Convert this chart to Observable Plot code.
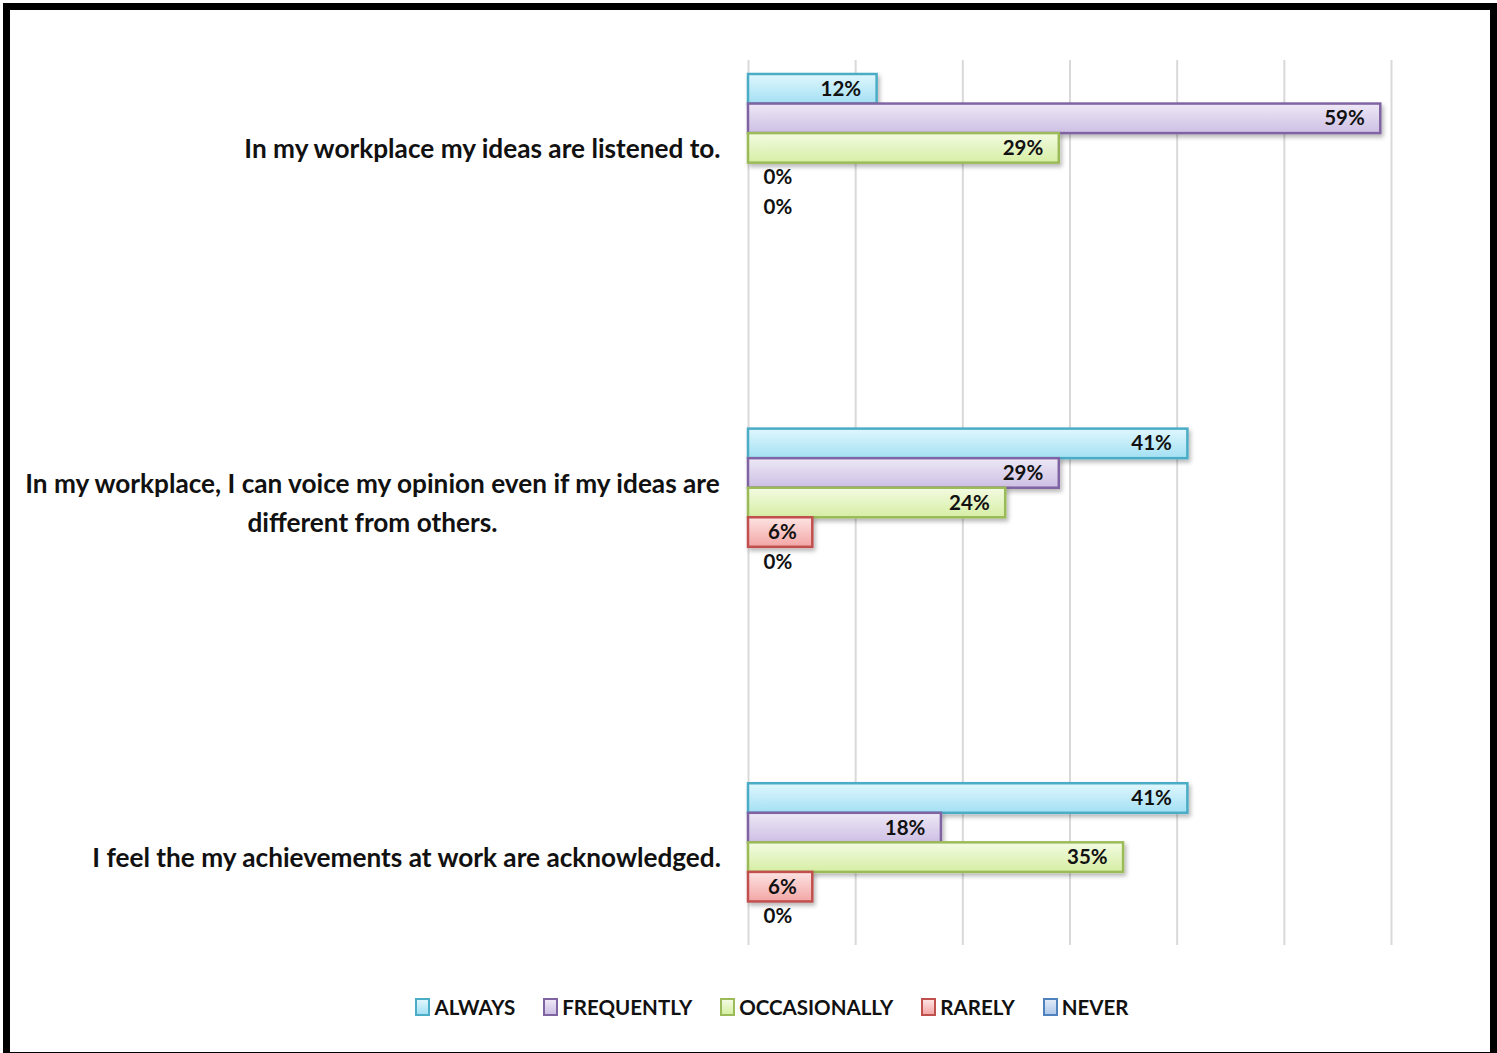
<!DOCTYPE html>
<html><head><meta charset="utf-8">
<script src="https://cdn.jsdelivr.net/npm/d3@7"></script>
<script src="https://cdn.jsdelivr.net/npm/@observablehq/plot@0.6"></script>
<style>
html,body{margin:0;padding:0;background:#fff;}
#frame{position:absolute;left:3px;top:3px;width:1480px;height:1042px;border:7px solid #000;background:#fff;overflow:hidden;}
#chart{position:absolute;left:0;top:0;}
#legend{position:absolute;left:0;top:985px;width:1480px;height:24px;display:flex;justify-content:center;align-items:center;padding-left:44px;box-sizing:border-box;font-family:Lato,sans-serif;font-weight:bold;font-size:20.5px;color:#111;}
.item{display:flex;align-items:center;margin-right:28px;}
.item:last-child{margin-right:0;}
.sw{width:11px;height:14px;border:2px solid;margin-right:4px;box-sizing:content-box;}
</style></head><body>
<div id="frame"><div id="chart"></div><div id="legend"></div></div>
<script>
// ---- data ----
const categories = [
  "In my workplace my ideas are listened to.",
  "In my workplace, I can voice my opinion even if my ideas are\ndifferent from others.",
  "I feel the my achievements at work are acknowledged."
];
const series = ["ALWAYS", "FREQUENTLY", "OCCASIONALLY", "RARELY", "NEVER"];
const alwaysValues       = [12, 41, 41];
const frequentlyValues   = [59, 29, 18];
const occasionallyValues = [29, 24, 35];
const rarelyValues       = [0, 6, 6];
const neverValues        = [0, 0, 0];
const xTicks = [0, 10, 20, 30, 40, 50, 60];

// ---- styling ----
const borderColors = ["#4bacc6", "#8064a2", "#9bbb59", "#c0504d", "#4f81bd"];
const gradTop      = ["#e0f7fe", "#eee8f6", "#f3fbe2", "#fde3e3", "#e0eaf7"];
const gradBottom   = ["#a3e0f3", "#cdbfe4", "#d6eea4", "#f2a6a5", "#b0c8ea"];

const seriesValues = [alwaysValues, frequentlyValues, occasionallyValues, rarelyValues, neverValues];
const data = [];
categories.forEach((c, i) => series.forEach((s, j) =>
  data.push({category: c, series: s, key: i + "|" + s, value: seriesValues[j][i]})));

// band slots: 5 bars per group, 7 empty slots between groups
const slots = [];
categories.forEach((c, i) => {
  if (i > 0) for (let k = 0; k < 7; k++) slots.push("gap" + i + "-" + k);
  series.forEach(s => slots.push(i + "|" + s));
});

const labelSize = 26.2;
const cv = document.createElement("canvas").getContext("2d");
cv.font = `bold ${labelSize}px Lato`;
function maxLineWidth(t) { return Math.max(...t.split("\n").map(l => cv.measureText(l).width)); }

const barMarks = series.map((s, j) =>
  Plot.barX(data.filter(d => d.series === s && d.value > 0), {
    x: "value", y: "key", fill: `url(#grad${j})`, stroke: borderColors[j], strokeWidth: 2.5
  }));

const labelMarks = categories.map((c, i) =>
  Plot.text([c], {
    x: () => 0, y: () => i + "|" + series[2], text: d => d,
    textAnchor: "middle", lineAnchor: "middle", lineHeight: 1.49,
    dx: -27 - maxLineWidth(c) / 2, dy: -3,
    fontFamily: "Lato", fontWeight: "bold", fontSize: labelSize, fill: "#111"
  }));

const chart = Plot.plot({
  width: 1480, height: 975,
  marginLeft: 738, marginRight: 99, marginTop: 50, marginBottom: 40,
  x: {domain: [0, 60], axis: null},
  y: {type: "band", domain: slots, range: [64, 921], padding: 0, round: false, axis: null},
  style: {background: "transparent"},
  marks: [
    Plot.gridX(xTicks, {stroke: "#d9d9d9", strokeOpacity: 1, strokeWidth: 2}),
    ...barMarks,
    Plot.text(data.filter(d => d.value > 0), {
      x: "value", y: "key", text: d => d.value + "%", textAnchor: "end", dx: -16,
      fontFamily: "Lato", fontWeight: "bold", fontSize: 20.5, fill: "#111"
    }),
    Plot.text(data.filter(d => d.value === 0), {
      x: "value", y: "key", text: d => d.value + "%", textAnchor: "start", dx: 15,
      fontFamily: "Lato", fontWeight: "bold", fontSize: 20.5, fill: "#111"
    }),
    ...labelMarks
  ]
});

const svgNS = "http://www.w3.org/2000/svg";
const defs = document.createElementNS(svgNS, "defs");
defs.innerHTML = series.map((s, j) =>
  `<linearGradient id="grad${j}" x1="0" y1="0" x2="0" y2="1">
     <stop offset="0" stop-color="${gradTop[j]}"/><stop offset="1" stop-color="${gradBottom[j]}"/>
   </linearGradient>`).join("") +
  `<filter id="shadow" filterUnits="userSpaceOnUse" x="0" y="0" width="1480" height="975">
     <feDropShadow dx="2" dy="3" stdDeviation="2" flood-color="#000" flood-opacity="0.28"/>
   </filter>`;
chart.prepend(defs);
chart.querySelectorAll('g[aria-label="bar"]').forEach(g => g.setAttribute("filter", "url(#shadow)"));
document.getElementById("chart").appendChild(chart);

// legend
const legend = document.getElementById("legend");
series.forEach((s, j) => {
  const item = document.createElement("div");
  item.className = "item";
  const sw = document.createElement("span");
  sw.className = "sw";
  sw.style.borderColor = borderColors[j];
  sw.style.background = `linear-gradient(${gradTop[j]}, ${gradBottom[j]})`;
  const t = document.createElement("span");
  t.textContent = s;
  item.appendChild(sw); item.appendChild(t);
  legend.appendChild(item);
});
</script>
</body></html>
